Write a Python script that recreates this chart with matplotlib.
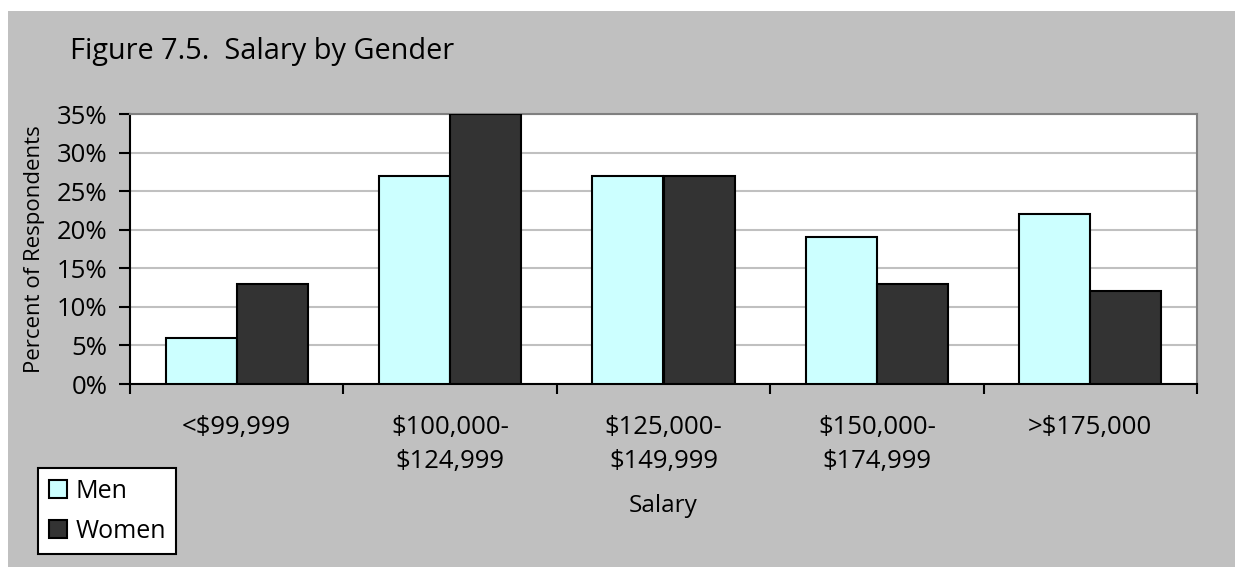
import numpy as np
import matplotlib.pyplot as plt
from matplotlib.patches import Rectangle
from matplotlib.ticker import FixedLocator, NullFormatter

categories = ["<$99,999", "$100,000-\n$124,999", "$125,000-\n$149,999",
              "$150,000-\n$174,999", ">$175,000"]
men = [6, 27, 27, 19, 22]
women = [13, 35, 27, 13, 12]

plt.rcParams['font.family'] = ['Open Sans', 'DejaVu Sans']

fig = plt.figure(figsize=(12.35, 5.67), dpi=100)
fig.patch.set_facecolor('white')
# grey chart area, with thin white strip on top and left
fig.patches.append(Rectangle((8 / 1235, 0), 1, 556 / 567, transform=fig.transFigure,
                             facecolor='#C0C0C0', edgecolor='none', zorder=-10))

ax = fig.add_axes([130 / 1235, 1 - 384 / 567, 1067 / 1235, 270 / 567])
ax.set_facecolor('white')

x = np.arange(len(categories))
w = 1 / 3
ax.bar(x - w / 2, men, w, color='#CCFFFF', edgecolor='black', linewidth=1.5, label='Men', zorder=3)
ax.bar(x + w / 2, women, w, color='#333333', edgecolor='black', linewidth=1.5, label='Women', zorder=3)

ax.set_xlim(-0.5, len(categories) - 0.5)
ax.set_ylim(0, 35)
ax.set_yticks(np.arange(0, 36, 5))
ax.set_yticklabels([f"{v}%" for v in range(0, 36, 5)], fontsize=18.5)
ax.yaxis.grid(True, color='#C0C0C0', linewidth=1.5, zorder=0)

ax.xaxis.set_major_locator(FixedLocator(np.arange(-0.5, len(categories), 1)))
ax.xaxis.set_major_formatter(NullFormatter())
ax.xaxis.set_minor_locator(FixedLocator(x))
ax.set_xticklabels(categories, minor=True, fontsize=18.5, linespacing=1.44)
ax.tick_params(axis='x', which='minor', length=0, pad=22.5)
ax.tick_params(axis='x', which='major', length=7, width=1.5, direction='out')
ax.tick_params(axis='y', length=8, width=1.5, direction='out', pad=8)

for s in ['left', 'bottom']:
    ax.spines[s].set_color('black')
    ax.spines[s].set_linewidth(1.5)
for s in ['top', 'right']:
    ax.spines[s].set_color('#808080')
    ax.spines[s].set_linewidth(1.5)

ax.set_xlabel("Salary", fontsize=17.5, labelpad=14.5)
ax.set_ylabel("Percent of Respondents", fontsize=16, labelpad=9)

fig.text(70 / 1235, 1 - 59 / 567, "Figure 7.5.  Salary by Gender", fontsize=20.8,
         va='baseline', ha='left')

leg = fig.legend(loc='lower left', bbox_to_anchor=(38 / 1235, 13 / 567), fontsize=18,
                 frameon=True, fancybox=False, edgecolor='black', framealpha=1,
                 handlelength=0.75, handleheight=0.75, handletextpad=0.32,
                 borderpad=0.42, labelspacing=0.6, borderaxespad=0)
leg.get_frame().set_linewidth(1.5)

fig.savefig("out.png", dpi=100, facecolor=fig.get_facecolor())
